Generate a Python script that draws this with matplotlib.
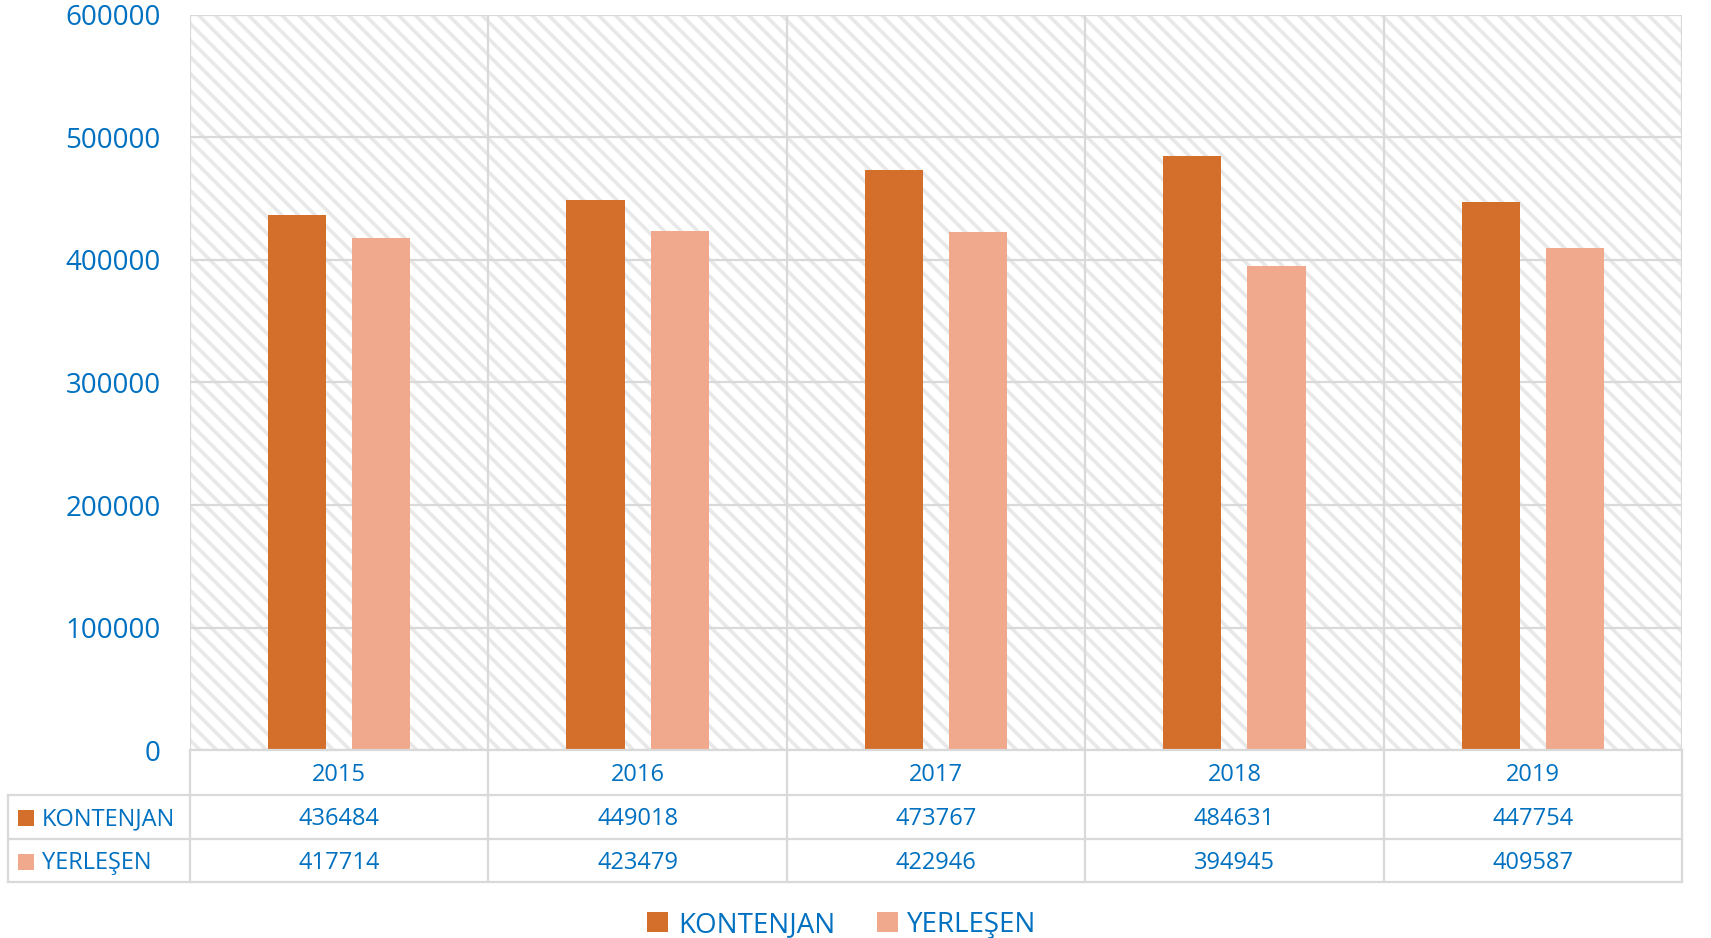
import matplotlib
matplotlib.use("Agg")
import matplotlib.pyplot as plt
from matplotlib.patches import Rectangle
from matplotlib.lines import Line2D
import numpy as np

years = ["2015", "2016", "2017", "2018", "2019"]
kontenjan = [436484, 449018, 473767, 484631, 447754]
yerlesen = [417714, 423479, 422946, 394945, 409587]
series_names = ["KONTENJAN", "YERLEŞEN"]
yticks = [0, 100000, 200000, 300000, 400000, 500000, 600000]

C1 = "#D36F2B"
C2 = "#F0A98C"
TXT = "#0070C0"
GRID = "#D9D9D9"

plt.rcParams['font.family'] = ['Open Sans', 'DejaVu Sans']
plt.rcParams['hatch.linewidth'] = 2.6
plt.rcParams['hatch.color'] = "#E8E8E8"

W, H = 1711, 938
fig = plt.figure(figsize=(W / 100, H / 100), dpi=100)

L, R, T, B = 190, 1682, 15, 750
ax = fig.add_axes([L / W, (H - B) / H, (R - L) / W, (B - T) / H])
x = np.arange(len(years))
ax.set_xlim(-0.5, len(years) - 0.5)
ax.set_ylim(0, 600000)

# hatched background
ax.add_patch(Rectangle((-0.5, 0), len(years), 600000, facecolor="white",
                       edgecolor="#E8E8E8", hatch="\\\\", lw=0, zorder=0))

for yv in yticks:
    ax.axhline(yv, color=GRID, lw=1.6, zorder=1)
for b in np.arange(-0.5, len(years) + 0.5, 1.0):
    ax.axvline(b, color=GRID, lw=1.6, zorder=1)

bw = 0.195
ax.bar(x - 0.141, kontenjan, bw, color=C1, zorder=3)
ax.bar(x + 0.141, yerlesen, bw, color=C2, zorder=3)

ax.set_yticks(yticks)
ax.set_yticklabels([str(v) for v in yticks], color=TXT, fontsize=20)
ax.tick_params(axis='y', length=0, pad=21)
ax.set_xticks([])
for s in ax.spines.values():
    s.set_visible(False)

# table
TT, TB = 750, 882
tax = fig.add_axes([L / W, (H - TB) / H, (R - L) / W, (TB - TT) / H])
tax.set_xlim(-0.5, len(years) - 0.5)
tax.set_ylim(882, 750)
tax.axis("off")
px = (len(years)) / (R - L)  # data units per pixel
xl = -0.5 - (L - 8) * px
rows = [750, 795, 839, 882]
lk = dict(color=GRID, lw=1.6, clip_on=False)
tax.add_line(Line2D([-0.5, 4.5], [750, 750], **lk))
for yv in rows[1:]:
    tax.add_line(Line2D([xl, 4.5], [yv, yv], **lk))
for b in np.arange(-0.5, len(years) + 0.5, 1.0):
    tax.add_line(Line2D([b, b], [750, 882], **lk))
tax.add_line(Line2D([xl, xl], [795, 882], **lk))

for i, yr in enumerate(years):
    tax.text(i, 775, yr, ha="center", va="center", color=TXT, fontsize=17)
    tax.text(i, 819, str(kontenjan[i]), ha="center", va="center", color=TXT, fontsize=17)
    tax.text(i, 862.5, str(yerlesen[i]), ha="center", va="center", color=TXT, fontsize=17)

for j, (name, c, yc) in enumerate([(series_names[0], C1, 818), (series_names[1], C2, 861.5)]):
    tax.add_patch(Rectangle((xl + 10 * px, yc - 8), 16 * px, 16, facecolor=c,
                            edgecolor="none", clip_on=False))
    tax.text(xl + 34 * px, yc + 1, name, ha="left", va="center", color=TXT, fontsize=17,
             clip_on=False)

handles = [Rectangle((0, 0), 1, 1, facecolor=C1), Rectangle((0, 0), 1, 1, facecolor=C2)]
fig.legend(handles, series_names, loc="center", bbox_to_anchor=(842 / W, 1 - 925 / H),
           ncol=2, frameon=False, fontsize=20, labelcolor=TXT, handlelength=0.75,
           handleheight=0.75, handletextpad=0.35, columnspacing=1.5)

fig.savefig("out.png", dpi=100)
